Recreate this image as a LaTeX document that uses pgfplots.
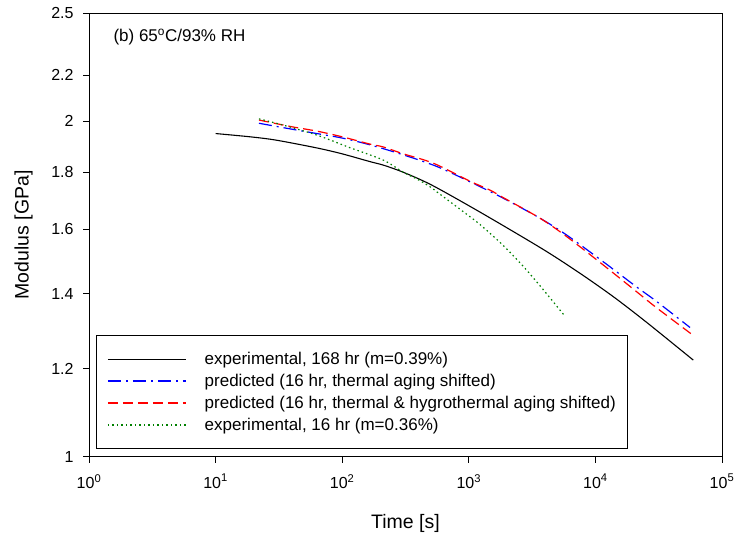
\documentclass[border=0pt]{standalone}
\usepackage{fontspec}
\setmainfont{Liberation Sans}
\usepackage{pgfplots}
\pgfplotsset{compat=1.18}
\definecolor{dgreen}{RGB}{0,128,0}
\definecolor{pblue}{RGB}{0,0,255}
\begin{document}
\begin{tikzpicture}
\path[use as bounding box] (0,0) rectangle (737pt,538pt);
\begin{axis}[
  at={(89pt,81.3pt)}, anchor=south west,
  width=633pt, height=443.4pt, scale only axis,
  xmode=log, ymode=log,
  xmin=1, xmax=1e5, ymin=1, ymax=2.5,
  xtick={1,10,100,1000,10000,100000},
  xticklabels={10\textsuperscript{0},10\textsuperscript{1},10\textsuperscript{2},10\textsuperscript{3},10\textsuperscript{4},10\textsuperscript{5}},
  ytick={1,1.2,1.4,1.6,1.8,2,2.2,2.5},
  yticklabels={1,1.2,1.4,1.6,1.8,2,2.2,2.5},
  xminorticks=false, yminorticks=false,
  tick align=outside, major tick length=6pt,
  xtick pos=bottom, ytick pos=left,
  axis line style={line width=0.8pt},
  every tick/.style={black, line width=0.8pt},
  /pgf/number format/assume math mode=true,
  xticklabel style={font=\fontsize{16}{16}\selectfont, yshift=-8pt},
  yticklabel style={font=\fontsize{16}{16}\selectfont, xshift=-6pt},
  xlabel={Time [s]}, ylabel={Modulus [GPa]},
  label style={font=\fontsize{19.5}{19.5}\selectfont},
  xlabel style={at={(axis description cs:0.5,-0.1615)}, anchor=base},
  ylabel style={at={(axis description cs:-0.1035,0.5)}, anchor=center},
  legend cell align=left,
  legend style={at={(axis description cs:0.0106,0.0174)}, anchor=south west,
    draw=black, line width=0.8pt, font=\fontsize{17}{17}\selectfont,
    inner xsep=11pt, inner ysep=15.7pt, row sep=6.1pt, column sep=17pt,
    nodes={inner sep=1pt}},
  legend image code/.code={\draw[#1] (0pt,0pt) -- (78pt,0pt);},
]
\addlegendimage{black, line width=1.1pt}
\addlegendentry{experimental, 168 hr (m=0.39\%)}
\addlegendimage{pblue, line width=1.6pt, dash pattern=on 13pt off 5pt on 2pt off 5pt}
\addlegendentry{predicted (16 hr, thermal aging shifted)}
\addlegendimage{red, line width=1.2pt, dash pattern=on 10pt off 5pt}
\addlegendentry{predicted (16 hr, thermal \& hygrothermal aging shifted)}
\addlegendimage{dgreen, line width=1.2pt, dash pattern=on 1.5pt off 3pt}
\addlegendentry{experimental, 16 hr (m=0.36\%)}
\addplot[forget plot, black, line width=1.1pt, smooth, tension=0.5] coordinates {
(10,1.950) (18.7,1.937) (30,1.924) (63,1.893) (100,1.870) (166,1.840) (211,1.827)
(304,1.800) (500,1.755) (1000,1.680) (2000,1.605) (4125,1.528) (7550,1.461)
(13850,1.392) (25400,1.320) (59300,1.221)};
\addplot[forget plot, pblue, line width=1.2pt, smooth, tension=0.5, dash pattern=on 13pt off 5pt on 2pt off 5pt] coordinates {
(22,1.992) (40,1.968) (63,1.950) (100,1.932) (166,1.905) (304,1.866) (557,1.822)
(1022,1.765) (1874,1.706) (3650,1.637) (5930,1.581) (11550,1.496) (21200,1.420)
(30000,1.380) (55900,1.306)};
\addplot[forget plot, red, line width=1.2pt, smooth, tension=0.5, dash pattern=on 10pt off 5pt] coordinates {
(22,2.005) (40,1.978) (63,1.960) (100,1.937) (166,1.908) (211,1.897) (304,1.870)
(525,1.834) (1022,1.767) (1470,1.735) (1874,1.708) (3650,1.637) (5930,1.576)
(11550,1.486) (21200,1.406) (30000,1.362) (57600,1.288)};
\addplot[forget plot, dgreen, line width=1.2pt, smooth, tension=0.5, dash pattern=on 1.5pt off 3pt] coordinates {
(22,2.010) (34,1.985) (63,1.944) (115,1.894) (211,1.846) (304,1.800) (387,1.776)
(494,1.747) (593,1.720) (905,1.659) (1225,1.616) (1874,1.547) (2780,1.476)
(4000,1.406) (5650,1.340)};
\node[anchor=base west, font=\fontsize{17}{17}\selectfont] at (rel axis cs:0.0332,0.9353) {(b) 65\textsuperscript{o}C/93\% RH};
\end{axis}
\end{tikzpicture}
\end{document}
